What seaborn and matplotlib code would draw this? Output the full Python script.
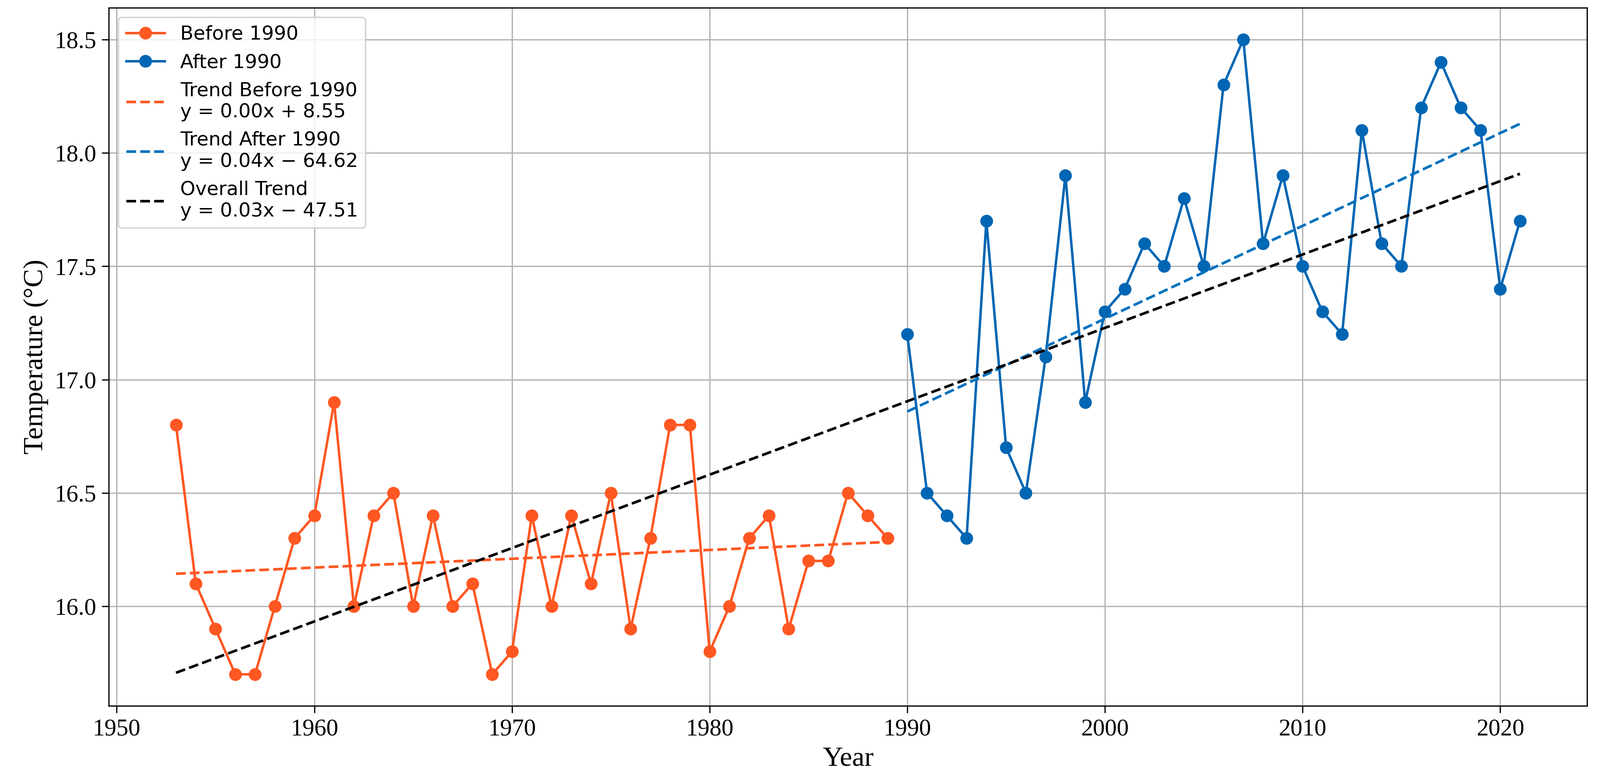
import numpy as np
import pandas as pd
import matplotlib
matplotlib.use('Agg')
import matplotlib.pyplot as plt
import seaborn as sns

# Annual mean temperature
years_before = list(range(1953, 1990))
temps_before = [16.8, 16.1, 15.9, 15.7, 15.7, 16.0, 16.3, 16.4, 16.9, 16.0,
                16.4, 16.5, 16.0, 16.4, 16.0, 16.1, 15.7, 15.8, 16.4, 16.0,
                16.4, 16.1, 16.5, 15.9, 16.3, 16.8, 16.8, 15.8, 16.0, 16.3,
                16.4, 15.9, 16.2, 16.2, 16.5, 16.4, 16.3]

years_after = list(range(1990, 2022))
temps_after = [17.2, 16.5, 16.4, 16.3, 17.7, 16.7, 16.5, 17.1, 17.9, 16.9,
               17.3, 17.4, 17.6, 17.5, 17.8, 17.5, 18.3, 18.5, 17.6, 17.9,
               17.5, 17.3, 17.2, 18.1, 17.6, 17.5, 18.2, 18.4, 18.2, 18.1,
               17.4, 17.7]

# legend texts as printed in the chart
label_before = 'Before 1990'
label_after = 'After 1990'
label_trend_before = 'Trend Before 1990\ny = 0.00x + 8.55'
label_trend_after = 'Trend After 1990\ny = 0.04x \u2212 64.62'
label_trend_all = 'Overall Trend\ny = 0.03x \u2212 47.51'

orange = '#FF5722'
blue = '#0066B3'
blue_trend = '#0072BD'

df_before = pd.DataFrame({'year': years_before, 'temp': temps_before})
df_after = pd.DataFrame({'year': years_after, 'temp': temps_after})
df_all = pd.concat([df_before, df_after], ignore_index=True)

# linear trends
def trend(df):
    k, b = np.polyfit(df['year'], df['temp'], 1)
    return pd.DataFrame({'year': df['year'], 'temp': k * df['year'] + b})

tr_before = trend(df_before)
tr_after = trend(df_after)
tr_all = trend(df_all)

fig, ax = plt.subplots(figsize=(4324 / 300, 2110 / 300), dpi=300)
fig.subplots_adjust(left=0.068, right=0.992, top=0.99, bottom=0.096)

sns.lineplot(data=df_before, x='year', y='temp', ax=ax, color=orange, marker='o',
             markersize=7.5, markeredgecolor=orange, linewidth=1.6, label=label_before)
sns.lineplot(data=df_after, x='year', y='temp', ax=ax, color=blue, marker='o',
             markersize=7.5, markeredgecolor=blue, linewidth=1.6, label=label_after)
sns.lineplot(data=tr_before, x='year', y='temp', ax=ax, color=orange, linestyle='--',
             linewidth=1.7, label=label_trend_before)
sns.lineplot(data=tr_after, x='year', y='temp', ax=ax, color=blue_trend, linestyle='--',
             linewidth=1.7, label=label_trend_after)
sns.lineplot(data=tr_all, x='year', y='temp', ax=ax, color='black', linestyle='--',
             linewidth=1.7, label=label_trend_all)

serif = ['Liberation Serif', 'DejaVu Serif']
ax.set_xlabel('Year', family=serif, fontsize=18)
ax.set_ylabel('Temperature (\u00b0C)', family=serif, fontsize=18)
ax.set_xticks([1950, 1960, 1970, 1980, 1990, 2000, 2010, 2020])
ax.set_yticks([16.0, 16.5, 17.0, 17.5, 18.0, 18.5])
for lab in ax.get_xticklabels() + ax.get_yticklabels():
    lab.set_fontfamily(serif)
    lab.set_fontsize(15.5)
ax.tick_params(length=4.5)
ax.grid(True, color='#b0b0b0', linewidth=0.8)

ax.legend(loc='upper left', fontsize=12.5, handlelength=2.0)

plt.savefig('out.png', dpi=300)
